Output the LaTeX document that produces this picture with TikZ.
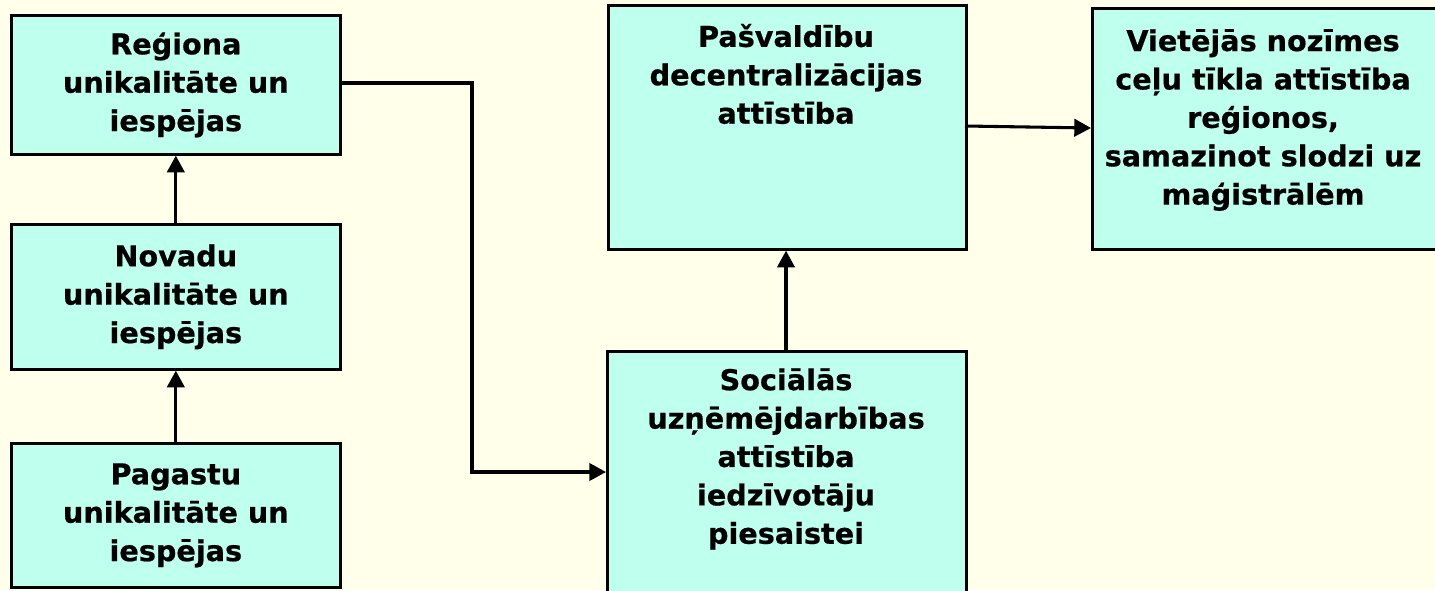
\documentclass[tikz,border=0pt]{standalone}
\usepackage{fontspec}
\setmainfont{DejaVu Sans}[BoldFeatures={FakeBold=0.6}]
\usetikzlibrary{arrows.meta}
\definecolor{bgc}{RGB}{255,255,234}
\definecolor{boxc}{RGB}{191,255,237}
\begin{document}
\begin{tikzpicture}[x=0.75pt,y=-0.75pt,
  boxnode/.style={draw=black,line width=2pt,fill=boxc,rectangle,inner sep=0pt},
  txt/.style={align=center,font=\fontsize{21.5pt}{28.8pt}\selectfont\bfseries,inner sep=0pt},
  arr/.style={line width=2.3pt,-{Triangle[length=12.5pt,width=13pt]}}]
\fill[bgc] (0,0) rectangle (1435,590);
\useasboundingbox (0,0) rectangle (1435,590);
\begin{scope}
\clip (0,0) rectangle (1435,590);
\node[boxnode,minimum width=329*0.75pt,minimum height=139*0.75pt,anchor=north west] (A) at (10,14) {};
\node[boxnode,minimum width=329*0.75pt,minimum height=145*0.75pt,anchor=north west] (B) at (10,223) {};
\node[boxnode,minimum width=329*0.75pt,minimum height=144*0.75pt,anchor=north west] (C) at (10,442) {};
\node[boxnode,minimum width=358*0.75pt,minimum height=244*0.75pt,anchor=north west] (D) at (607,4) {};
\node[boxnode,minimum width=359*0.75pt,minimum height=260*0.75pt,anchor=north west] (E) at (606,350) {};
\node[boxnode,minimum width=360*0.75pt,minimum height=241*0.75pt,anchor=north west] (F) at (1091,7) {};
\end{scope}
\node[txt] (tA) at (A.center) {Reģiona\\unikalitāte un\\iespējas};
\node[txt] (tB) at (B.center) {Novadu\\unikalitāte un\\iespējas};
\node[txt] (tC) at (C.center) {Pagastu\\unikalitāte un\\iespējas};
\node[txt] (tD) at (786,74) {Pašvaldību\\decentralizācijas\\attīstība};
\node[txt] (tE) at (786,459) {Sociālās\\uzņēmējdarbības\\attīstība\\iedzīvotāju\\piesaistei};
\node[txt] (tF) at (1263,120) {Vietējās nozīmes\\ceļu tīkla attīstība\\reģionos,\\samazinot slodzi uz\\maģistrālēm};
\coordinate (a1) at (339,83);
\coordinate (c1) at (472,83);
\coordinate (c2) at (472,472);
\coordinate (e1) at (606,472);
\coordinate (d1) at (965,126);
\coordinate (f1) at (1091,128);
\draw[arr] (C.north) -- (B.south);
\draw[arr] (B.north) -- (A.south);
\draw[arr] (a1) -- (c1) -- (c2) -- (e1);
\draw[arr] (E.north -| 786,0) -- (D.south -| 786,0);
\draw[arr] (d1) -- (f1);
\end{tikzpicture}
\end{document}
